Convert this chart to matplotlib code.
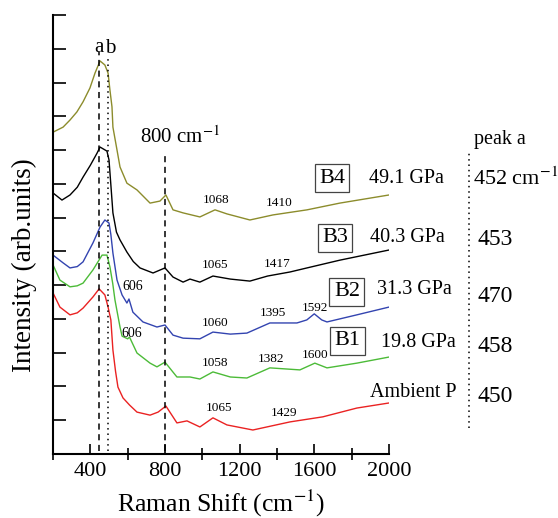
import matplotlib
matplotlib.use("Agg")
import matplotlib.pyplot as plt
from matplotlib.ticker import MultipleLocator

plt.rcParams['font.family'] = ['Liberation Serif', 'DejaVu Serif']
plt.rcParams['mathtext.fontset'] = 'stix'

# Raman spectra (shift in cm-1, stacked intensity in arb. units)
x_b4 = [200, 254, 291, 328, 361, 398, 425, 452, 478, 495, 505, 516, 521, 543, 559, 596,
        650, 720, 773, 805, 843, 897, 987, 1068, 1132, 1255, 1379, 1561, 1737, 2000]
y_b4 = [9.53, 9.68, 9.89, 10.13, 10.43, 10.84, 11.28, 11.64, 11.52, 11.28, 10.78, 10.28,
        9.68, 9.00, 8.50, 8.02, 7.82, 7.43, 7.49, 7.67, 7.23, 7.14, 7.02, 7.23, 7.11, 6.93,
        7.08, 7.23, 7.43, 7.67]

x_b3 = [200, 248, 291, 330, 361, 400, 436, 452, 489, 500, 510, 521, 540, 559, 596, 630,
        666, 736, 800, 843, 897, 934, 987, 1057, 1150, 1255, 1350, 1470, 1561, 1737, 2000]
y_b3 = [7.73, 7.52, 7.67, 7.90, 8.20, 8.55, 8.91, 9.09, 8.97, 8.71, 7.97, 7.14, 6.57, 6.34,
        5.98, 5.70, 5.51, 5.36, 5.51, 5.24, 5.09, 5.18, 5.09, 5.27, 5.18, 5.12, 5.27, 5.39,
        5.51, 5.74, 6.04]

x_b2 = [200, 254, 291, 330, 361, 414, 452, 478, 500, 510, 521, 543, 570, 596, 607, 628,
        682, 757, 800, 843, 897, 987, 1057, 1150, 1239, 1362, 1507, 1560, 1600, 1640, 1668,
        1828, 2000]
y_b2 = [5.89, 5.66, 5.51, 5.55, 5.69, 6.25, 6.72, 6.93, 6.84, 6.50, 5.95, 5.15, 4.71, 4.47,
        4.59, 4.20, 3.91, 3.76, 3.82, 3.52, 3.43, 3.41, 3.61, 3.55, 3.58, 3.88, 3.88, 3.97,
        4.15, 3.97, 3.91, 4.12, 4.35]

x_b1 = [200, 237, 291, 330, 361, 414, 463, 489, 505, 520, 532, 559, 570, 600, 610, 650,
        720, 757, 800, 864, 934, 987, 1057, 1150, 1239, 1362, 1523, 1603, 1668, 1828, 2000]
y_b1 = [5.60, 5.15, 4.95, 4.98, 5.06, 5.45, 5.89, 5.89, 5.54, 5.05, 4.56, 3.76, 3.49, 3.41,
        3.46, 2.99, 2.69, 2.58, 2.72, 2.28, 2.28, 2.22, 2.43, 2.28, 2.25, 2.55, 2.49, 2.69,
        2.55, 2.69, 2.87]

x_amb = [200, 237, 291, 330, 361, 414, 447, 478, 495, 510, 521, 535, 548, 575, 610, 650,
         720, 763, 805, 864, 918, 987, 1057, 1132, 1271, 1470, 1646, 1828, 2000]
y_amb = [4.77, 4.35, 4.12, 4.18, 4.32, 4.65, 4.89, 4.71, 4.35, 3.97, 3.08, 2.45, 1.98, 1.66,
         1.45, 1.24, 1.15, 1.24, 1.42, 0.92, 0.98, 0.80, 1.07, 0.86, 0.71, 0.95, 1.10, 1.36,
         1.51]

pressures = ["49.1 GPa", "40.3 GPa", "31.3 GPa", "19.8 GPa", "Ambient P"]
phases = ["B4", "B3", "B2", "B1", ""]
peak_a = ["452 cm$^{-1}$", "453", "470", "458", "450"]

fig = plt.figure(figsize=(5.58, 5.18), dpi=100)
ax = fig.add_axes([0.095, 0.1236, 0.602, 0.8474])

ax.plot(x_b4, y_b4, color="#8c8c2c", lw=1.0)
ax.plot(x_b3, y_b3, color="black", lw=1.0)
ax.plot(x_b2, y_b2, color="#3344b0", lw=1.0)
ax.plot(x_b1, y_b1, color="#4cbb38", lw=1.0)
ax.plot(x_amb, y_amb, color="#ea2222", lw=1.0)

# guide lines
ax.plot([447, 447], [0.1, 11.9], ls=(0, (4, 3)), color="black", lw=1.1)
ax.plot([492, 492], [0.1, 11.7], ls=(0, (1, 2.5)), color="black", lw=1.1)
ax.plot([800, 800], [0.1, 8.9], ls=(0, (4, 3)), color="black", lw=1.1)
ax.text(446, 12.05, "a", ha="center", va="center", fontsize=15)
ax.text(505, 12.02, "b", ha="center", va="center", fontsize=15)
ax.text(880, 9.39, "800 cm$^{-1}$", ha="center", va="center", fontsize=15)

# small peak labels
peaks = [(629, 4.95, "606"), (623, 3.58, "606"),
         (1073, 7.52, "1068"), (1411, 7.43, "1410"),
         (1068, 5.60, "1065"), (1400, 5.63, "1417"),
         (1068, 3.88, "1060"), (1379, 4.18, "1395"), (1604, 4.32, "1592"),
         (1068, 2.69, "1058"), (1368, 2.81, "1382"), (1604, 2.93, "1600"),
         (1089, 1.36, "1065"), (1437, 1.21, "1429")]
for px, py, s in peaks:
    ax.text(px, py, s, ha="center", va="center", fontsize=10 if s == "606" else 9.5)

# right-hand labels
box_x = [1695, 1711, 1775, 1780]
lab_x = [1893, 1898, 1936, 1957, 1898]
lab_y = [8.17, 6.40, 4.86, 3.29, 1.81]
box_y = [8.17, 6.40, 4.80, 3.35]
peak_y = [8.14, 6.34, 4.65, 3.17, 1.69]
for i in range(5):
    if phases[i]:
        ax.text(box_x[i], box_y[i], phases[i], ha="center", va="center", fontsize=16,
                bbox=dict(boxstyle="square,pad=0.2", fc="white", ec="#444444", lw=0.9))
    ax.text(lab_x[i], lab_y[i], pressures[i], ha="left", va="center", fontsize=14.5,
            clip_on=False)
    ax.text(2450 if i == 0 else 2477, peak_y[i], peak_a[i], ha="left", va="center",
            fontsize=16 if i == 0 else 17, clip_on=False)
ax.text(2455, 9.30, "peak a", ha="left", va="center", fontsize=14.5, clip_on=False)
ax.plot([2429, 2429], [0.77, 8.91], ls=(0, (1, 2.5)), color="black", lw=1.1, clip_on=False)

ax.set_xlim(200, 2000)
ax.set_ylim(0, 13)
ax.spines["top"].set_visible(False)
ax.spines["right"].set_visible(False)
ax.spines["left"].set_linewidth(1.5)
ax.spines["bottom"].set_linewidth(1.5)
ax.xaxis.set_major_locator(MultipleLocator(400))
ax.yaxis.set_major_locator(MultipleLocator(1))
ax.tick_params(axis="x", which="major", direction="in", length=7, width=1.2,
               labelsize=16, pad=6)
ax.tick_params(axis="x", which="minor", direction="inout", length=8, width=1.2)
ax.tick_params(axis="y", which="major", direction="in", length=9, width=1.2, labelleft=False)
ax.xaxis.set_ticks([400, 800, 1200, 1600, 2000])
ax.xaxis.set_ticks([200, 600, 1000, 1400, 1800], minor=True)

ax.set_xlabel("Raman Shift (cm$^{-1}$)", fontsize=18.5)
ax.set_ylabel("Intensity (arb.units)", fontsize=19.5)
ax.xaxis.set_label_coords(0.5, -0.078)
ax.yaxis.set_label_coords(-0.048, 0.43)

fig.savefig("out.png", dpi=100)
